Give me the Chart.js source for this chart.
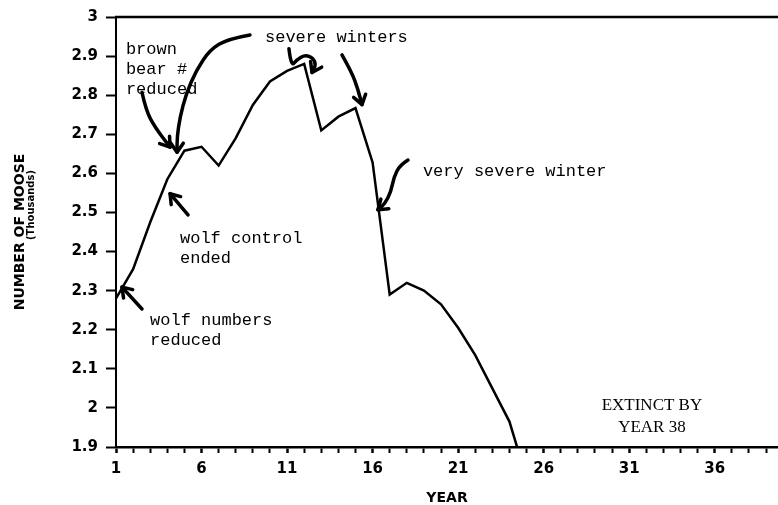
<!DOCTYPE html>
<html>
<head>
<meta charset="utf-8">
<script src="https://cdn.jsdelivr.net/npm/chart.js@4.4.1/dist/chart.umd.min.js"></script>
<style>
  html, body { margin: 0; padding: 0; background: #fff; overflow: hidden; }
  #wrap { width: 778px; height: 505px; }
</style>
</head>
<body>
<div id="wrap"><canvas id="c" width="778" height="505"></canvas></div>
<script>
// ---- data ----
const years = [1, 2, 3, 4, 5, 6, 7, 8, 9, 10, 11, 12, 13, 14, 15, 16, 17, 18, 19, 20, 21, 22, 23, 24, 25];
const moose = [2.28, 2.355, 2.475, 2.585, 2.658, 2.668, 2.62, 2.69, 2.775, 2.835, 2.862, 2.88,
               2.71, 2.745, 2.767, 2.628, 2.29, 2.32, 2.30, 2.265, 2.205, 2.135, 2.05, 1.965, 1.82];

const xTickValues = [1,2,3,4,5,6,7,8,9,10,11,12,13,14,15,16,17,18,19,20,21,22,23,24,25,26,27,28,29,30,31,32,33,34,35,36,37,38,39];
const xMajorTicks = [1, 6, 11, 16, 21, 26, 31, 36];
const yTickValues = [1.9, 2.0, 2.1, 2.2, 2.3, 2.4, 2.5, 2.6, 2.7, 2.8, 2.9, 3.0];
const yTickLabels = ['1.9', '2', '2.1', '2.2', '2.3', '2.4', '2.5', '2.6', '2.7', '2.8', '2.9', '3'];

const xTitle = 'YEAR';
const yTitle = 'NUMBER OF MOOSE';
const yTitleSub = '(Thousands)';

// ---- annotations (positions in data units: [year, thousands]) ----
const noteTexts = [
  { lines: ['brown', 'bear #', 'reduced'], at: [1.58, 2.916] },
  { lines: ['severe winters'], at: [9.71, 2.947] },
  { lines: ['very severe winter'], at: [18.94, 2.604] },
  { lines: ['wolf control', 'ended'], at: [4.74, 2.433] },
  { lines: ['wolf numbers', 'reduced'], at: [2.99, 2.223] }
];
const extinctNote = { lines: ['EXTINCT BY', 'YEAR 38'], at: [32.33, 2.007] };

const arrows = [
  [[2.52, 2.807], [2.75, 2.761], [3.28, 2.718], [4.16, 2.667]],
  [[8.83, 2.954], [7.55, 2.944], [6.49, 2.916], [5.68, 2.863], [5.09, 2.802], [4.74, 2.743], [4.57, 2.693], [4.57, 2.654]],
  [[5.21, 2.494], [4.16, 2.548]],
  [[2.52, 2.253], [1.35, 2.309]],
  [[11.11, 2.919], [11.23, 2.873], [11.58, 2.891], [12.05, 2.903], [12.51, 2.896], [12.69, 2.878], [12.46, 2.858]],
  [[14.21, 2.903], [14.79, 2.858], [15.14, 2.815], [15.38, 2.776]],
  [[18.07, 2.634], [17.60, 2.621], [17.25, 2.591], [17.07, 2.553], [16.72, 2.522], [16.31, 2.507]]
];

const annotationPlugin = {
  id: 'annotations',
  afterDraw(chart) {
    const { ctx, chartArea, scales } = chart;
    const X = v => scales.x.getPixelForValue(v);
    const Y = v => scales.y.getPixelForValue(v);
    ctx.save();
    // top frame line
    ctx.strokeStyle = '#000';
    ctx.lineWidth = 2.5;
    ctx.beginPath();
    ctx.moveTo(chartArea.left - 1, chartArea.top);
    ctx.lineTo(chart.width, chartArea.top);
    ctx.stroke();

    // sub title of y axis
    ctx.save();
    ctx.translate(31, 205);
    ctx.rotate(-Math.PI / 2);
    ctx.font = 'bold 10px "DejaVu Sans"';
    ctx.fillStyle = '#000';
    ctx.textAlign = 'center';
    ctx.textBaseline = 'middle';
    ctx.fillText(yTitleSub, 0, 0);
    ctx.restore();

    // typewriter notes
    ctx.fillStyle = '#000';
    ctx.font = '17px "Liberation Mono"';
    ctx.textAlign = 'left';
    ctx.textBaseline = 'middle';
    noteTexts.forEach(n => {
      const x0 = X(n.at[0]);
      const y0 = Y(n.at[1]);
      n.lines.forEach((t, i) => ctx.fillText(t, x0, y0 + i * 20));
    });
    ctx.font = '17px "Liberation Serif"';
    ctx.textAlign = 'center';
    extinctNote.lines.forEach((t, i) => ctx.fillText(t, X(extinctNote.at[0]), Y(extinctNote.at[1]) + i * 22));

    // hand drawn arrows
    ctx.strokeStyle = '#000';
    ctx.lineWidth = 3.5;
    ctx.lineCap = 'round';
    ctx.lineJoin = 'round';
    arrows.forEach(a => {
      const p = a.map(q => [X(q[0]), Y(q[1])]);
      ctx.beginPath();
      ctx.moveTo(p[0][0], p[0][1]);
      if (p.length === 2) {
        ctx.lineTo(p[1][0], p[1][1]);
      } else {
        for (let i = 1; i < p.length - 1; i++) {
          const mx = (p[i][0] + p[i + 1][0]) / 2;
          const my = (p[i][1] + p[i + 1][1]) / 2;
          ctx.quadraticCurveTo(p[i][0], p[i][1], mx, my);
        }
        ctx.lineTo(p[p.length - 1][0], p[p.length - 1][1]);
      }
      ctx.stroke();
      const e = p[p.length - 1], s = p[p.length - 2];
      const ang = Math.atan2(e[1] - s[1], e[0] - s[0]);
      const L = 11;
      ctx.beginPath();
      ctx.moveTo(e[0] - L * Math.cos(ang - 0.6), e[1] - L * Math.sin(ang - 0.6));
      ctx.lineTo(e[0], e[1]);
      ctx.lineTo(e[0] - L * Math.cos(ang + 0.6), e[1] - L * Math.sin(ang + 0.6));
      ctx.stroke();
    });
    ctx.restore();
  }
};

const tickFont = { family: 'DejaVu Sans', weight: 'bold', size: 15 };

new Chart(document.getElementById('c'), {
  type: 'line',
  data: {
    datasets: [{
      data: years.map((yr, i) => ({ x: yr, y: moose[i] })),
      borderColor: '#000',
      borderWidth: 2.5,
      pointRadius: 0,
      tension: 0,
      fill: false
    }]
  },
  options: {
    responsive: false,
    animation: false,
    layout: { padding: { top: 14, left: 0, right: 0, bottom: 0 } },
    plugins: { legend: { display: false }, tooltip: { enabled: false } },
    scales: {
      x: {
        type: 'linear',
        min: 1,
        max: 39.7,
        afterBuildTicks: s => { s.ticks = xTickValues.map(v => ({ value: v })); },
        afterFit: s => { s.height = 58; },
        ticks: {
          autoSkip: false, maxRotation: 0, minRotation: 0, padding: 7, color: '#000', font: tickFont,
          callback: v => (xMajorTicks.includes(v) ? String(v) : '')
        },
        grid: {
          drawOnChartArea: false, drawTicks: true, tickLength: 6, tickColor: '#000',
          tickWidth: ctx => (xMajorTicks.includes(ctx.tick && ctx.tick.value) ? 2.5 : 2)
        },
        border: { display: true, color: '#000', width: 2.5 },
        title: { display: true, text: xTitle, color: '#000', padding: { top: 0, bottom: 0 },
                 font: { family: 'DejaVu Sans', weight: 'bold', size: 14, lineHeight: 1 } }
      },
      y: {
        type: 'linear',
        min: 1.9,
        max: 3,
        afterBuildTicks: s => { s.ticks = yTickValues.map(v => ({ value: v })); },
        afterFit: s => { s.width = 116; },
        ticks: { padding: 8, color: '#000', font: tickFont, callback: (v, i) => yTickLabels[i] },
        grid: { drawOnChartArea: false, drawTicks: true, tickLength: 10, tickColor: '#000', tickWidth: 2 },
        border: { display: true, color: '#000', width: 2 },
        title: { display: true, text: yTitle, color: '#000', padding: { top: 12, bottom: 0 },
                 font: { family: 'DejaVu Sans', weight: 'bold', size: 14, lineHeight: 1.2 } }
      }
    }
  },
  plugins: [annotationPlugin]
});
</script>
</body>
</html>
